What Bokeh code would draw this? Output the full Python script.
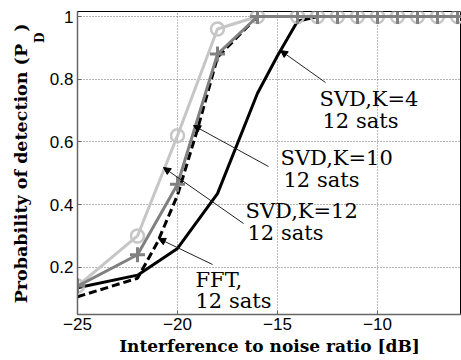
from bokeh.plotting import figure
from bokeh.models import Range1d, FixedTicker, Label, Arrow, NormalHead, Title
from bokeh.embed import file_html
from bokeh.resources import INLINE

# ---------------- data ----------------
inr_grey = [-25, -22, -20, -18, -16, -14, -13, -12, -11, -10, -9, -8, -7, -6, -5]
pd_svd_k12 = [0.14, 0.30, 0.62, 0.96, 1.0, 1.0, 1.0, 1.0, 1.0, 1.0, 1.0, 1.0, 1.0, 1.0, 1.0]
pd_svd_k10 = [0.14, 0.24, 0.465, 0.88, 1.0, 1.0, 1.0, 1.0, 1.0, 1.0, 1.0, 1.0, 1.0, 1.0, 1.0]

inr_k4 = [-25, -22, -20, -18, -16, -15, -14, -13, -12, -11, -10, -9, -8, -7, -6, -5]
pd_svd_k4 = [0.135, 0.175, 0.26, 0.435, 0.755, 0.875, 0.985, 1.0, 1.0, 1.0, 1.0, 1.0, 1.0, 1.0, 1.0, 1.0]

inr_fft = [-25, -22, -21, -20, -19, -18, -16, -14, -13, -12, -11, -10, -9, -8, -7, -6, -5]
pd_fft = [0.106, 0.165, 0.28, 0.43, 0.64, 0.87, 1.0, 1.0, 1.0, 1.0, 1.0, 1.0, 1.0, 1.0, 1.0, 1.0, 1.0]

x_ticks = [-25, -20, -15, -10]
y_ticks = [0.2, 0.4, 0.6, 0.8, 1.0]
y_tick_labels = {0.2: "0.2", 0.4: "0.4", 0.6: "0.6", 0.8: "0.8", 1.0: "1"}

x_label = "Interference to noise ratio [dB]"
y_label_main = "Probability of detection (P\u00a0\u00a0)"
y_label_sub = "D"

annotations = [
    ("SVD,K=4", "12 sats"),
    ("SVD,K=10", "12 sats"),
    ("SVD,K=12", "12 sats"),
    ("FFT,", "12 sats"),
]

# ---------------- layout helpers (pixel -> data) ----------------
def px_x(px):
    return -25 + (px - 77) / 20.0

def px_y(py):
    return 1 - (py - 16) / 313.5

W, H = 461, 360
p = figure(width=W, height=H, output_backend="svg", toolbar_location=None,
           x_range=Range1d(-25, px_x(461)), y_range=Range1d(px_y(314), px_y(11)),
           min_border_left=77, min_border_right=0, min_border_top=11, min_border_bottom=46)

p.background_fill_color = "white"
p.border_fill_color = "white"
p.outline_line_color = "black"
p.outline_line_width = 1

for ax in (p.xaxis[0], p.yaxis[0]):
    ax.major_tick_in = 4
    ax.major_tick_out = 0
    ax.minor_tick_line_color = None
    ax.axis_line_color = "#666666"
    ax.axis_line_width = 1.5
    ax.major_tick_line_color = "#666666"
    ax.major_label_text_font = "Liberation Sans"
    ax.major_label_text_font_size = "17px"
    ax.major_label_text_color = "black"

p.xaxis.ticker = FixedTicker(ticks=x_ticks)
p.yaxis.ticker = FixedTicker(ticks=y_ticks)
p.yaxis.major_label_overrides = y_tick_labels
p.xaxis.major_label_standoff = 3
p.yaxis.major_label_standoff = 4

p.xaxis.axis_label = x_label
p.xaxis.axis_label_text_font = "DejaVu Serif"
p.xaxis.axis_label_text_font_style = "bold"
p.xaxis.axis_label_text_font_size = "17px"
p.xaxis.axis_label_text_color = "black"
p.xaxis.axis_label_standoff = 3

p.xgrid.grid_line_color = "#7a7a7a"
p.ygrid.grid_line_color = "#6a6a6a"
p.xgrid.grid_line_dash = "1 2"
p.ygrid.grid_line_dash = "1 2"
p.xgrid.grid_line_width = 1
p.ygrid.grid_line_width = 1

# ---------------- series ----------------
black = "black"
grey = "#808080"
light = "#c6c6c6"

p.line(inr_k4, pd_svd_k4, line_color=black, line_width=3)
p.line(inr_fft, pd_fft, line_color=black, line_width=3, line_dash="8 4")
p.line(inr_grey, pd_svd_k12, line_color=light, line_width=3)
p.scatter(inr_grey, pd_svd_k12, marker="circle", size=13, fill_color=None,
          line_color=light, line_width=2.5)
p.line(inr_grey, pd_svd_k10, line_color=grey, line_width=3)
p.scatter(inr_grey, pd_svd_k10, marker="cross", size=15, line_color=grey, line_width=3)

# ---------------- annotations ----------------
ann_layout = [
    (319, 98, 322, 120, (325, 82), (280, 50)),
    (280, 157, 283, 179, (268, 166), (193, 125)),
    (245, 210, 247, 232, (243, 223), (163, 167)),
    (195, 279, 195, 300, (212, 264), (158, 238)),
]
for (l1, l2), (x1, b1, x2, b2, tail, tip) in zip(annotations, ann_layout):
    p.add_layout(Arrow(end=NormalHead(size=7, fill_color="black", line_color="black", line_width=1),
                       x_start=px_x(tail[0]), y_start=px_y(tail[1]),
                       x_end=px_x(tip[0]), y_end=px_y(tip[1]),
                       line_color="#222222", line_width=1))
    for txt, xx, bb in ((l1, x1, b1), (l2, x2, b2)):
        p.add_layout(Label(x=px_x(xx), y=px_y(bb), text=txt, text_font="DejaVu Serif",
                           text_font_size="21px", text_color="black",
                           text_align="left", text_baseline="alphabetic"))

# ---------------- y axis title with subscript (two left titles) ----------------
t_sub = Title(text=y_label_sub, align="right", offset=21, standoff=0,
              text_font="DejaVu Serif", text_font_style="bold", text_font_size="12px",
              text_color="black")
t_main = Title(text=y_label_main, align="right", offset=12, standoff=0,
               text_font="DejaVu Serif", text_font_style="bold", text_font_size="17.5px",
               text_color="black")
p.add_layout(t_sub, "left")
p.add_layout(t_main, "left")

open("out.html", "w").write(file_html(p, INLINE))
